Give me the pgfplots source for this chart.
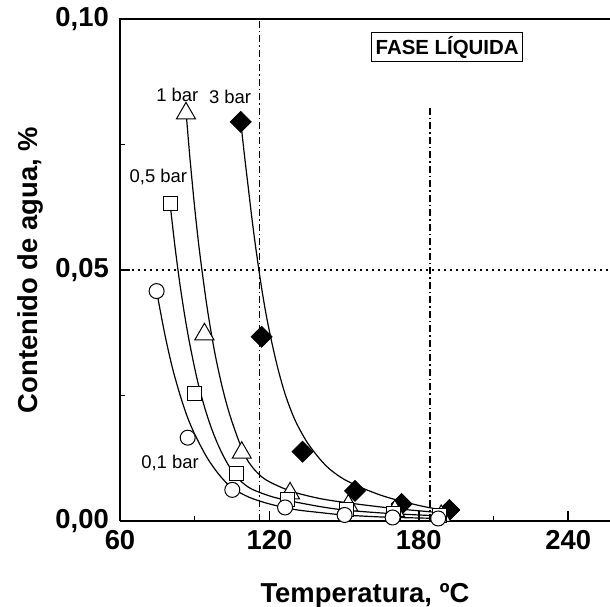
\documentclass[border=0pt]{standalone}
\usepackage{fontspec}
\setmainfont{Liberation Sans}
\usepackage{pgfplots}
\pgfplotsset{compat=1.18}
\begin{document}
\begin{tikzpicture}
\begin{axis}[
  name=ax,
  scale only axis, width=490bp, height=502bp,
  xmin=60, xmax=256.8, ymin=0, ymax=0.1,
  axis x line*=bottom, axis y line*=left,
  axis line style={line width=2.5bp, -},
  xtick={60,120,180,240}, minor xtick={90,150,210},
  ytick={0,0.05,0.1}, minor ytick={0.025,0.075},
  xticklabels={60,120,180,240},
  yticklabels={{0,00},{0,05},{0,10}},
  scaled y ticks=false,
  tick align=inside,
  major tick length=10bp, minor tick length=5bp,
  tick style={black, line width=1.5bp},
  tick label style={font=\fontsize{27.5}{32}\selectfont\bfseries},
  xticklabel style={anchor=base, inner sep=0pt, yshift=-28bp},
  yticklabel style={anchor=east, inner sep=0pt, xshift=-11bp},
  xlabel={Temperatura, ºC},
  ylabel={Contenido de agua, \%},
  label style={font=\fontsize{27.5}{32}\selectfont\bfseries},
  xlabel style={at={(axis description cs:0.5,0)}, anchor=base, yshift=-81bp},
  ylabel style={at={(axis description cs:-0.1837,0.5)}, anchor=center},
  clip=false,
]
% reference lines
\addplot[black, line width=1.2bp, dash pattern=on 2bp off 4bp] coordinates {(60,0.05) (256.8,0.05)};
\addplot[black, line width=1.2bp, dash pattern=on 7bp off 3bp on 1.5bp off 3bp] coordinates {(116,0) (116,0.1)};
\addplot[black, line width=1.2bp, dash pattern=on 7bp off 3bp on 1.5bp off 3bp] coordinates {(184.5,0) (184.5,0.0827)};
% fitted curves
\addplot[black, line width=1.2bp, smooth, no marks] coordinates {
(74.7,0.0458) (78,0.0372) (81,0.0306) (84,0.0253) (87,0.0208) (90,0.0173) (95,0.0126) (100,0.0091) (105,0.0066) (112,0.0047) (120,0.0034) (130,0.0023) (140,0.0017) (150,0.0012) (165,0.0008) (180,0.0006) (190,0.0005)};
\addplot[black, line width=1.2bp, smooth, no marks] coordinates {
(80.1,0.0633) (82,0.0550) (84,0.0474) (86,0.0409) (88,0.0353) (91,0.0282) (94,0.0226) (97,0.0181) (100,0.0145) (103,0.0116) (106.6,0.0089) (112,0.0066) (120,0.0050) (127.3,0.0041) (140,0.0029) (150,0.0022) (165,0.0016) (180,0.0012) (190,0.0010)};
\addplot[black, line width=1.2bp, smooth, no marks] coordinates {
(86.5,0.0817) (88,0.0728) (90,0.0624) (92,0.0535) (95,0.0425) (98,0.0337) (101,0.0268) (104,0.0213) (108,0.0156) (112,0.0115) (118,0.0084) (128.3,0.0060) (140,0.0045) (151.7,0.0036) (170,0.0025) (190,0.0016)};
\addplot[black, line width=1.2bp, smooth, no marks] coordinates {
(108.5,0.0795) (110,0.0728) (111.5,0.0665) (113,0.0602) (114.5,0.0545) (116,0.0493) (117.5,0.0445) (119,0.0403) (121,0.0355) (123.5,0.0302) (126.5,0.0250) (130.3,0.0201) (135,0.0158) (140,0.0125) (144.3,0.0103) (150,0.0083) (157.6,0.0065) (165,0.0051) (171.1,0.0042) (180,0.0031) (186,0.0025) (192,0.0020)};
% data points
\addplot[only marks, mark=square*, mark size=7.4bp, mark options={rotate=45, fill=black, draw=black, line width=0.8bp}] coordinates {
(108.5,0.0795) (116.9,0.0367) (133.3,0.0138) (154.4,0.0060) (173.1,0.0034) (192.3,0.0022)};
\addplot[only marks, mark=triangle*, mark size=11bp, mark options={fill=white, draw=black, line width=1bp}] coordinates {
(86.5,0.0812) (93.9,0.0372) (108.9,0.0136) (128.3,0.0055) (151.7,0.0031) (170.4,0.0020) (189,0.0010)};
\addplot[only marks, mark=square*, mark size=7bp, mark options={fill=white, draw=black, line width=1bp}] coordinates {
(80.1,0.0633) (89.8,0.0254) (106.6,0.0094) (127.3,0.0042) (150.8,0.0022) (169.8,0.0015) (188.5,0.0010)};
\addplot[only marks, mark=*, mark size=7.5bp, mark options={fill=white, draw=black, line width=1bp}] coordinates {
(74.7,0.0458) (87.2,0.0166) (105.1,0.0062) (126.3,0.0027) (150.2,0.0012) (169.5,0.0007) (187.8,0.0005)};
% annotations
\node[font=\fontsize{18.5}{22}\selectfont] at (axis cs:83.0,0.0849) {1 bar};
\node[font=\fontsize{18.5}{22}\selectfont] at (axis cs:104.2,0.0844) {3 bar};
\node[font=\fontsize{18.5}{22}\selectfont] at (axis cs:75.4,0.0686) {0,5 bar};
\node[font=\fontsize{18.5}{22}\selectfont] at (axis cs:80.1,0.0115) {0,1 bar};
\node[draw=black, line width=1.2bp, fill=white, minimum width=151bp, minimum height=29bp, inner sep=0pt,
      font=\fontsize{20.5}{24}\selectfont\bfseries] at (axis cs:191.4,0.0944) {FASE LÍQUIDA};
% top spine
\draw[line width=2.5bp] ([xshift=-1.25bp]rel axis cs:0,1) -- (rel axis cs:1,1);
\end{axis}
\pgfresetboundingbox
\useasboundingbox (ax.south west) ++(-120bp,-86bp) rectangle ([yshift=19bp]ax.north east);
\end{tikzpicture}
\end{document}
